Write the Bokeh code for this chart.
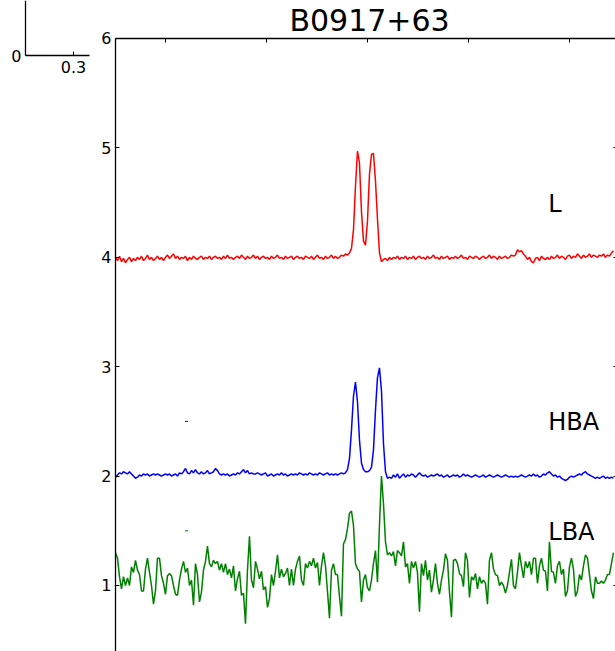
import numpy as np
from bokeh.plotting import figure
from bokeh.models import Range1d, Label, FixedTicker, LinearAxis, CustomJSTickFormatter
from bokeh.embed import file_html
from bokeh.resources import INLINE

# ---------------- data ----------------
TITLE = "B0917+63"
BIN = 0.00396  # pulse-phase width of one profile bin

l_band = [
    4.00, 3.97, 4.01, 3.96, 3.99, 3.95, 3.98, 4.00, 3.96, 3.99,
    3.97, 4.00, 3.98, 4.01, 3.97, 3.99, 4.02, 3.98, 4.00, 3.97,
    3.99, 4.01, 3.98, 4.00, 3.97, 4.00, 4.02, 3.99, 4.01, 4.03,
    3.99, 4.01, 3.98, 4.00, 3.99, 4.01, 3.97, 4.00, 3.98, 4.01,
    3.99, 3.98, 4.00, 4.01, 3.98, 4.00, 3.99, 4.01, 3.98, 4.00,
    4.01, 3.99, 4.00, 3.98, 4.01, 3.99, 4.02, 3.99, 4.00, 3.98,
    4.00, 4.01, 3.99, 4.02, 4.00, 3.98, 4.01, 3.99, 4.00, 4.02,
    3.99, 4.01, 3.98, 4.00, 4.01, 3.99, 4.00, 3.98, 4.01, 3.99,
    4.00, 4.02, 3.99, 4.00, 3.98, 4.01, 3.99, 4.00, 4.01, 3.98,
    4.00, 4.01, 3.99, 4.00, 3.98, 4.01, 4.00, 3.99, 4.01, 3.98,
    4.00, 4.02, 3.99, 4.00, 3.98, 4.01, 3.99, 4.00, 4.02, 3.99,
    4.01, 3.99, 4.00, 4.02, 4.01, 4.03, 4.02, 4.04, 4.08, 4.25,
    4.65, 4.97, 4.86, 4.42, 4.15, 4.11, 4.33, 4.76, 4.94, 4.95,
    4.70, 4.35, 4.04, 3.96, 3.98, 3.99, 3.97, 4.00, 3.98, 4.00,
    3.99, 4.01, 3.98, 4.00, 3.99, 4.01, 3.98, 4.00, 3.99, 4.01,
    3.98, 4.00, 4.01, 3.99, 4.00, 3.98, 4.01, 3.99, 4.00, 4.02,
    3.99, 4.00, 3.98, 4.01, 3.99, 4.00, 4.01, 3.98, 4.00, 3.99,
    4.01, 3.99, 4.00, 4.02, 3.99, 4.00, 3.98, 4.01, 4.00, 3.99,
    4.01, 4.00, 3.98, 4.00, 4.01, 3.99, 4.00, 4.02, 3.99, 4.01,
    4.00, 3.98, 4.01, 3.99, 4.00, 4.01, 3.99, 4.00, 4.02, 4.01,
    4.02, 4.07, 4.05, 4.06, 4.03, 4.01, 3.98, 4.00, 3.96, 3.95,
    3.99, 4.00, 3.97, 4.01, 3.99, 3.98, 4.00, 3.98, 4.01, 3.99,
    4.00, 4.02, 3.99, 4.01, 4.00, 3.98, 4.01, 4.02, 3.99, 4.01,
    4.00, 4.03, 4.01, 3.99, 4.02, 4.00, 4.01, 4.03, 4.00, 4.02,
    4.01, 4.00, 4.02, 4.01, 4.03, 4.00, 4.02, 4.01, 4.04, 4.06,
]

hba = [
    1.99, 2.01, 2.03, 2.02, 2.04, 2.03, 2.02, 2.04, 2.02, 2.00,
    1.98, 1.99, 2.01, 2.00, 2.02, 2.01, 2.02, 2.00, 2.01, 2.02,
    2.01, 2.02, 2.01, 2.00, 2.01, 2.02, 2.01, 2.02, 2.00, 2.01,
    2.02, 2.00, 2.03, 2.02, 2.04, 2.07, 2.03, 2.02, 2.05, 2.03,
    2.06, 2.03, 2.02, 2.04, 2.02, 2.03, 2.05, 2.02, 2.03, 2.04,
    2.07, 2.05, 2.02, 2.01, 2.02, 2.01, 2.02, 2.00, 2.01, 2.02,
    2.01, 2.03, 2.02, 2.04, 2.06, 2.03, 2.05, 2.02, 2.03, 2.02,
    2.02, 2.03, 2.02, 2.01, 2.02, 2.03, 2.00, 2.01, 2.02, 2.00,
    2.01, 2.02, 2.01, 2.03, 2.01, 2.02, 2.00, 2.01, 2.02, 2.01,
    2.02, 2.01, 2.03, 2.02, 2.01, 2.02, 2.01, 2.03, 2.02, 2.01,
    2.02, 2.01, 2.03, 2.02, 2.01, 2.02, 2.03, 2.01, 2.02, 2.01,
    2.02, 2.01, 2.02, 2.03, 2.02, 2.03, 2.06, 2.16, 2.42, 2.73,
    2.86, 2.68, 2.33, 2.12, 2.06, 2.04, 2.04, 2.05, 2.08, 2.24,
    2.60, 2.90, 2.99, 2.78, 2.30, 2.04, 1.98, 1.99, 1.98, 2.01,
    1.99, 2.02, 1.98, 2.00, 2.02, 1.99, 2.01, 2.00, 2.02, 2.01,
    1.99, 2.01, 2.03, 2.01, 2.00, 2.01, 1.99, 2.00, 2.01, 2.00,
    2.01, 2.02, 2.00, 2.01, 1.99, 2.00, 2.01, 1.99, 2.00, 2.01,
    2.00, 2.01, 1.99, 2.00, 2.02, 2.00, 2.01, 2.00, 1.99, 2.00,
    2.01, 2.00, 1.99, 2.00, 2.01, 1.99, 2.00, 2.01, 2.00, 1.99,
    2.00, 2.01, 2.00, 1.99, 2.00, 2.01, 2.00, 1.99, 2.00, 1.99,
    2.00, 1.99, 2.00, 2.01, 2.00, 1.99, 2.00, 2.01, 2.00, 2.02,
    2.00, 2.01, 1.99, 2.00, 2.02, 2.01, 2.03, 2.04, 2.02, 2.00,
    2.01, 1.99, 2.00, 1.98, 1.97, 1.96, 1.97, 1.99, 2.00, 1.99,
    2.00, 2.01, 2.02, 2.01, 2.03, 2.04, 2.02, 2.01, 2.00, 1.99,
    1.98, 1.99, 1.98, 1.99, 2.00, 1.98, 1.99, 1.98, 1.99, 1.98,
]

lba = [
    1.30, 1.25, 1.08, 0.97, 1.08, 1.00, 1.07, 1.00, 1.17, 1.12,
    1.23, 1.14, 1.10, 0.95, 0.95, 1.15, 1.25, 1.12, 1.00, 0.83,
    0.95, 1.25, 1.25, 1.09, 1.02, 0.92, 1.09, 1.11, 1.09, 1.00,
    0.92, 0.91, 1.05, 1.15, 1.22, 1.12, 1.16, 1.00, 1.05, 0.82,
    1.20, 1.10, 0.85, 0.94, 1.14, 1.22, 1.36, 1.20, 1.17, 1.23,
    1.20, 1.22, 1.14, 1.20, 1.12, 1.20, 1.10, 1.15, 1.07, 1.18,
    0.95, 1.06, 1.13, 0.91, 0.93, 0.65, 1.14, 1.45, 1.05, 0.98,
    1.22, 1.15, 1.06, 1.13, 0.96, 0.99, 0.80, 0.88, 1.10, 1.00,
    1.13, 1.28, 1.07, 1.15, 1.08, 1.11, 1.16, 1.00, 1.15, 1.00,
    1.15, 1.22,
    1.27, 1.05, 1.00, 1.20, 1.16, 1.22, 1.18, 1.25, 1.16, 1.21,
    1.00, 1.18, 1.30, 1.18, 0.95, 0.70, 1.14, 1.20, 1.10, 1.10,
    0.90, 0.72, 1.38, 1.42, 1.52, 1.66, 1.68, 1.55, 1.20, 1.15,
    1.13, 0.85, 1.05, 1.10, 0.98, 0.95, 1.05, 1.20, 1.32, 1.03,
    1.55, 2.00, 1.75, 1.40, 1.28, 1.30, 1.27, 1.31, 1.18, 1.32,
    1.30, 1.27, 1.40, 1.17, 1.20, 1.02, 1.22, 1.16, 1.22, 1.12,
    0.76, 1.20, 1.09, 1.23, 1.05, 1.14, 0.94, 1.05, 1.20, 1.02,
    0.92, 1.05, 1.14, 1.29, 1.23, 0.94, 0.71, 1.23, 1.24, 1.20,
    1.11, 1.09, 0.99, 1.30, 1.23, 0.89, 1.08, 1.05, 1.11, 0.97,
    1.08, 1.02, 1.05, 1.02, 0.83, 1.23, 1.30, 1.15, 1.10, 1.09,
    1.00, 1.03, 1.00, 0.93, 1.00, 1.12, 1.24, 1.00, 0.97, 1.12,
    1.30, 1.18, 1.07, 1.22, 1.16, 1.22, 1.10, 1.25, 1.25, 1.02,
    1.18, 1.25, 1.14, 1.13, 0.95, 1.40, 1.13, 1.12, 1.02, 1.18,
    1.22, 1.10, 1.15, 0.90, 0.95, 1.17, 1.25, 1.15, 0.90, 0.95,
    1.10, 1.05, 1.18, 1.28, 1.25, 1.10, 0.95, 0.88, 1.08, 1.02,
    1.02, 1.04, 1.02, 1.05, 1.10, 1.10, 1.20, 1.30,
]

series_names = ["L", "HBA", "LBA"]
series_values = [l_band, hba, lba]
series_colors = ["#ff0000", "#0000ff", "#008000"]
label_pos = [(0.857, 4.49), (0.857, 2.49), (0.857, 1.486)]

# small resolution markers (phase centre, level, half-width)
marker_phase = [0.1406, 0.1406]
marker_level = [2.50, 1.50]
marker_half = 0.003
marker_colors = ["#0000ff", "#008000"]

y_ticks = [1, 2, 3, 4, 5, 6]
x_ticks = [0.1, 0.3, 0.5, 0.7, 0.9]
PHASE_MAX = 1.0
Y_TOP = 6.0
TITLE_POS = (0.503, 6.165)

# neighbouring panel fragment (top-left)
small_x_ticks = [0.3]
small_y_ticks = [0]
SMALL_X_MAX = 0.4

FONT = "DejaVu Sans"

# ---------------- figure ----------------
p = figure(width=615, height=651,
           x_range=Range1d(-0.2277, 0.9901), y_range=Range1d(0.3967, 6.3473),
           output_backend="svg", toolbar_location=None,
           x_axis_location=None, y_axis_location=None,
           min_border=0, min_border_left=0, min_border_right=0,
           min_border_top=0, min_border_bottom=0)
p.outline_line_color = None
p.grid.grid_line_color = None
p.extra_x_ranges = {"sx": Range1d(-0.15625, 3.6875)}
p.extra_y_ranges = {"sy": Range1d(-10.836, 1.0)}

blank = CustomJSTickFormatter(code="return ''")


def style(ax, labels=True):
    ax.axis_line_color = "black"
    ax.axis_line_width = 1.3
    ax.major_tick_in = 4
    ax.major_tick_out = 0
    ax.major_tick_line_color = "black"
    ax.major_tick_line_width = 1
    ax.minor_tick_line_color = None
    ax.major_label_text_font = FONT
    ax.major_label_text_color = "black"
    ax.major_label_text_font_size = "16px"
    if labels:
        ax.major_label_standoff = 4
    else:
        ax.formatter = blank
        ax.major_label_standoff = 0


# main left spine
ya = LinearAxis(ticker=FixedTicker(ticks=y_ticks), fixed_location=0,
                bounds=(0.3967, Y_TOP))
style(ya)
p.add_layout(ya, "left")

# main top spine
xa = LinearAxis(ticker=FixedTicker(ticks=x_ticks), fixed_location=Y_TOP,
                bounds=(0, PHASE_MAX))
style(xa, labels=False)
p.add_layout(xa, "above")

# main right spine (just outside the window, inward ticks visible)
ra = LinearAxis(ticker=FixedTicker(ticks=y_ticks), fixed_location=0.994,
                bounds=(0.3967, Y_TOP))
style(ra, labels=False)
p.add_layout(ra, "right")

# small panel axes
sya = LinearAxis(ticker=FixedTicker(ticks=small_y_ticks), fixed_location=0,
                 x_range_name="sx", y_range_name="sy", bounds=(0, 1.0))
style(sya)
p.add_layout(sya, "left")

sxa = LinearAxis(ticker=FixedTicker(ticks=small_x_ticks), fixed_location=0,
                 x_range_name="sx", y_range_name="sy", bounds=(0, SMALL_X_MAX))
style(sxa)
sxa.major_label_standoff = 5
p.add_layout(sxa, "below")

# profiles
for vals, col in zip(series_values, series_colors):
    ph = np.arange(len(vals)) * BIN
    p.line(ph, vals, line_color=col, line_width=1.5)

for ph, lv, col in zip(marker_phase, marker_level, marker_colors):
    p.segment(x0=[ph - marker_half], y0=[lv], x1=[ph + marker_half], y1=[lv],
              line_color=col, line_width=1)

for name, (lx, ly) in zip(series_names, label_pos):
    p.add_layout(Label(x=lx, y=ly, text=name, text_align="left",
                       text_baseline="alphabetic", text_font=FONT,
                       text_font_size="24px", text_color="black"))

p.add_layout(Label(x=TITLE_POS[0], y=TITLE_POS[1], text=TITLE, text_align="center",
                   text_baseline="alphabetic", text_font=FONT,
                   text_font_size="30px", text_color="black"))

open("out.html", "w").write(file_html(p, INLINE))
